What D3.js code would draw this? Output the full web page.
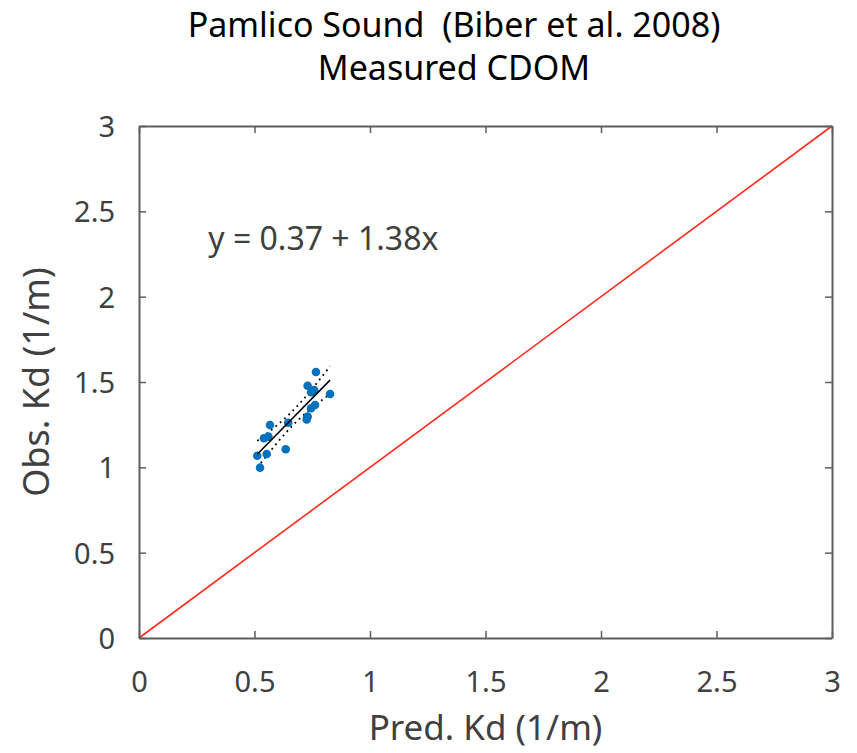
<!DOCTYPE html>
<html><head><meta charset="utf-8">
<script src="https://cdn.jsdelivr.net/npm/d3@7"></script>
<style>body{margin:0;background:#fff}svg{display:block}</style>
</head><body>
<svg id="c" width="857" height="753"></svg>
<script>
const titleLines = ["Pamlico Sound  (Biber et al. 2008)", "Measured CDOM"];
const xLabel = "Pred. Kd (1/m)";
const yLabel = "Obs. Kd (1/m)";
const ticks = [0, 0.5, 1, 1.5, 2, 2.5, 3];
const tickLabels = ["0", "0.5", "1", "1.5", "2", "2.5", "3"];
const predKd = [0.766,0.730,0.745,0.758,0.827,0.762,0.745,0.726,0.730,0.567,0.646,0.560,0.541,0.635,0.512,0.553,0.524];
const obsKd  = [1.559,1.478,1.440,1.453,1.430,1.365,1.346,1.281,1.297,1.248,1.261,1.180,1.170,1.106,1.068,1.078,0.998];
const fitIntercept = 0.37, fitSlope = 1.38;
const eqText = "y = 0.37 + 1.38x";

const svg = d3.select("#c");
const L=139, R=832, T=126, B=638;
const x = d3.scaleLinear().domain([0,3]).range([L,R]);
const y = d3.scaleLinear().domain([0,3]).range([B,T]);
const axisCol = "#5e5e5e", textCol = "#404040";
const font = "'Noto Sans', sans-serif";

// title
svg.selectAll("text.title").data(titleLines).enter().append("text")
  .attr("x", 454).attr("y", (d,i)=>37+i*43)
  .attr("text-anchor","middle").attr("font-family",font).attr("font-size",34)
  .attr("fill","#000").style("white-space","pre").text(d=>d);

// 1:1 line
svg.append("line").attr("x1",x(0)).attr("y1",y(0)).attr("x2",x(3)).attr("y2",y(3))
  .attr("stroke","#ff2a1a").attr("stroke-width",1.6);

// fit line & confidence bands
const n = predKd.length;
const xm = d3.mean(predKd);
const sxx = d3.sum(predKd, v=>(v-xm)*(v-xm));
const resid = predKd.map((v,i)=>obsKd[i]-(fitIntercept+fitSlope*v));
const s = Math.sqrt(d3.sum(resid, r=>r*r)/(n-2));
const tval = 2.131;
const [xmin,xmax] = d3.extent(predKd);
const xs = d3.range(0,41).map(i=>xmin+(xmax-xmin)*i/40);
const half = v => tval*s*Math.sqrt(1/n + (v-xm)*(v-xm)/sxx);
const lineGen = d3.line().x(d=>x(d[0])).y(d=>y(d[1]));
[1,-1].forEach(sg=>{
  svg.append("path").attr("d", lineGen(xs.map(v=>[v, fitIntercept+fitSlope*v+sg*half(v)])))
    .attr("fill","none").attr("stroke","#000").attr("stroke-width",1.8).attr("stroke-dasharray","1.8,4");
});

// points
svg.selectAll("circle.pt").data(predKd).enter().append("circle")
  .attr("cx",d=>x(d)).attr("cy",(d,i)=>y(obsKd[i])).attr("r",4.3)
  .attr("fill","#0072BD");

svg.append("line").attr("x1",x(xmin)).attr("y1",y(fitIntercept+fitSlope*xmin))
  .attr("x2",x(xmax)).attr("y2",y(fitIntercept+fitSlope*xmax))
  .attr("stroke","#000").attr("stroke-width",1.6);

// axes
const tl = 7;
const gb = svg.append("g").attr("transform",`translate(0,${B})`)
  .call(d3.axisBottom(x).tickValues(ticks).tickFormat((d,i)=>tickLabels[i]).tickSizeInner(-tl).tickSizeOuter(0));
const gt = svg.append("g").attr("transform",`translate(0,${T})`)
  .call(d3.axisTop(x).tickValues(ticks).tickFormat("").tickSizeInner(-tl).tickSizeOuter(0));
const gl = svg.append("g").attr("transform",`translate(${L},0)`)
  .call(d3.axisLeft(y).tickValues(ticks).tickFormat((d,i)=>tickLabels[i]).tickSizeInner(-tl).tickSizeOuter(0));
const gr = svg.append("g").attr("transform",`translate(${R},0)`)
  .call(d3.axisRight(y).tickValues(ticks).tickFormat("").tickSizeInner(-tl).tickSizeOuter(0));
[gb,gt,gl,gr].forEach(g=>{
  g.select(".domain").attr("stroke",axisCol).attr("stroke-width",2);
  g.selectAll(".tick line").attr("stroke",axisCol).attr("stroke-width",1.5);
  g.selectAll(".tick text").attr("font-family",font).attr("font-size",29).attr("fill",textCol);
});
gb.selectAll(".tick text").attr("y",54).attr("dy",0);
gl.selectAll(".tick text").attr("x",-24).attr("dy","0.36em");

// labels
svg.append("text").attr("x",(L+R)/2).attr("y",740).attr("text-anchor","middle")
  .attr("font-family",font).attr("font-size",35).attr("fill",textCol).text(xLabel);
svg.append("text").attr("transform",`translate(49,${(T+B)/2}) rotate(-90)`).attr("text-anchor","middle")
  .attr("font-family",font).attr("font-size",36).attr("fill",textCol).text(yLabel);

svg.append("text").attr("x",x(0.3)).attr("y",250)
  .attr("font-family",font).attr("font-size",32).attr("fill",textCol).text(eqText);
</script>
</body></html>
